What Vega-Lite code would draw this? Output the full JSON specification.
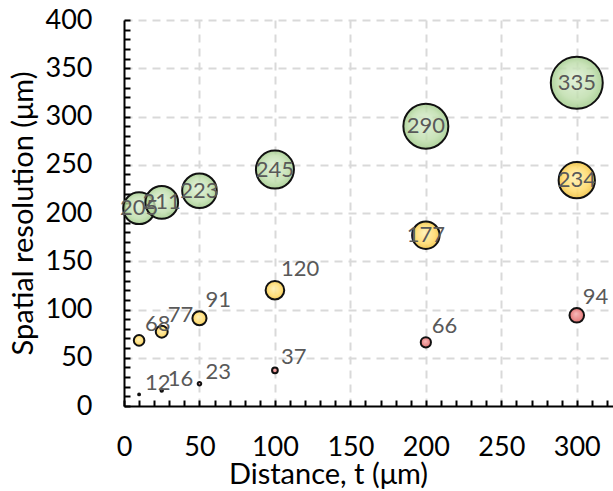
{
  "$schema": "https://vega.github.io/schema/vega-lite/v6.json",
  "width": 489,
  "height": 386,
  "autosize": {"type": "none"},
  "padding": {"left": 124, "top": 20, "right": 0, "bottom": 85},
  "background": "white",
  "config": {
    "view": {"stroke": null},
    "font": "Lato",
    "axis": {
      "domainColor": "#000000",
      "domainWidth": 2,
      "tickColor": "#000000",
      "tickWidth": 2,
      "tickSize": -6,
      "gridColor": "#d9d9d9",
      "gridWidth": 2,
      "gridDash": [8, 6],
      "labelFont": "Lato",
      "labelFontSize": 27,
      "labelColor": "#000000",
      "titleFont": "Lato",
      "titleFontSize": 29,
      "titleFontWeight": "normal",
      "titleColor": "#000000"
    }
  },
  "data": {
    "values": [
      {"series": "A", "x": 10, "y": 205},
      {"series": "A", "x": 25, "y": 211},
      {"series": "A", "x": 50, "y": 223},
      {"series": "A", "x": 100, "y": 245},
      {"series": "A", "x": 200, "y": 290},
      {"series": "A", "x": 300, "y": 335},
      {"series": "B", "x": 10, "y": 68},
      {"series": "B", "x": 25, "y": 77},
      {"series": "B", "x": 50, "y": 91},
      {"series": "B", "x": 100, "y": 120},
      {"series": "B", "x": 200, "y": 177},
      {"series": "B", "x": 300, "y": 234},
      {"series": "C", "x": 10, "y": 12},
      {"series": "C", "x": 25, "y": 16},
      {"series": "C", "x": 50, "y": 23},
      {"series": "C", "x": 100, "y": 37},
      {"series": "C", "x": 200, "y": 66},
      {"series": "C", "x": 300, "y": 94}
    ]
  },
  "encoding": {
    "x": {
      "field": "x", "type": "quantitative",
      "scale": {"domain": [0, 324], "nice": false},
      "axis": {
        "title": "Distance, t (μm)",
        "values": [0,10,20,30,40,50,60,70,80,90,100,110,120,130,140,150,160,170,180,190,200,210,220,230,240,250,260,270,280,290,300,310,320],
        "labelExpr": "datum.value % 50 == 0 ? datum.label : ''",
        "gridOpacity": {"condition": {"test": "datum.value % 50 == 0 && datum.value > 0", "value": 1}, "value": 0},
        "labelPadding": 34,
        "labelFlush": false,
        "titlePadding": 0,
        "titleX": 204
      }
    },
    "y": {
      "field": "y", "type": "quantitative",
      "scale": {"domain": [0, 400], "nice": false},
      "axis": {
        "title": "Spatial resolution (μm)",
        "values": [0,10,20,30,40,50,60,70,80,90,100,110,120,130,140,150,160,170,180,190,200,210,220,230,240,250,260,270,280,290,300,310,320,330,340,350,360,370,380,390,400],
        "labelExpr": "datum.value % 50 == 0 ? datum.label : ''",
        "gridOpacity": {"condition": {"test": "datum.value % 50 == 0 && datum.value > 0", "value": 1}, "value": 0},
        "labelPadding": 38,
        "titlePadding": 7
      }
    }
  },
  "layer": [
    {
      "transform": [{"filter": "datum.series == 'A'"}],
      "mark": {
        "type": "circle",
        "fill": {"gradient": "radial", "x1": 0.45, "y1": 0.4, "r1": 0, "x2": 0.5, "y2": 0.5, "r2": 0.5,
          "stops": [{"offset": 0, "color": "#dcefd2"}, {"offset": 0.7, "color": "#bcdca8"}, {"offset": 1, "color": "#9cc884"}]},
        "fillOpacity": 0.8,
        "stroke": "#111111",
        "strokeWidth": 2
      },
      "encoding": {
        "size": {"field": "y", "type": "quantitative", "legend": null,
          "scale": {"type": "pow", "exponent": 2, "domain": [0, 335], "range": [0, 2700]}}
      }
    },
    {
      "transform": [{"filter": "datum.series == 'B'"}],
      "mark": {
        "type": "circle",
        "fill": {"gradient": "radial", "x1": 0.45, "y1": 0.4, "r1": 0, "x2": 0.5, "y2": 0.5, "r2": 0.5,
          "stops": [{"offset": 0, "color": "#fff0b0"}, {"offset": 0.7, "color": "#ffd966"}, {"offset": 1, "color": "#eebf3c"}]},
        "fillOpacity": 0.85,
        "stroke": "#111111",
        "strokeWidth": 2
      },
      "encoding": {
        "size": {"field": "y", "type": "quantitative", "legend": null,
          "scale": {"type": "pow", "exponent": 2, "domain": [0, 335], "range": [0, 2700]}}
      }
    },
    {
      "transform": [{"filter": "datum.series == 'C'"}],
      "mark": {
        "type": "circle",
        "fill": {"gradient": "radial", "x1": 0.45, "y1": 0.4, "r1": 0, "x2": 0.5, "y2": 0.5, "r2": 0.5,
          "stops": [{"offset": 0, "color": "#f6b4b4"}, {"offset": 0.7, "color": "#e87f7f"}, {"offset": 1, "color": "#d86060"}]},
        "fillOpacity": 0.9,
        "stroke": "#111111",
        "strokeWidth": 2
      },
      "encoding": {
        "size": {"field": "y", "type": "quantitative", "legend": null,
          "scale": {"type": "pow", "exponent": 2, "domain": [0, 335], "range": [0, 2700]}}
      }
    },
    {
      "transform": [{"filter": "datum.y >= 150"}],
      "mark": {"type": "text", "font": "Lato", "fontSize": 22, "color": "#595959", "align": "center", "baseline": "middle"},
      "encoding": {"text": {"field": "y", "type": "quantitative"}}
    },
    {
      "transform": [{"filter": "datum.y < 150"}],
      "mark": {"type": "text", "font": "Lato", "fontSize": 22, "color": "#595959", "align": "left", "baseline": "middle",
        "dx": 6, "dy": {"expr": "-(10 + datum.y * 0.09)"}},
      "encoding": {"text": {"field": "y", "type": "quantitative"}}
    }
  ]
}
